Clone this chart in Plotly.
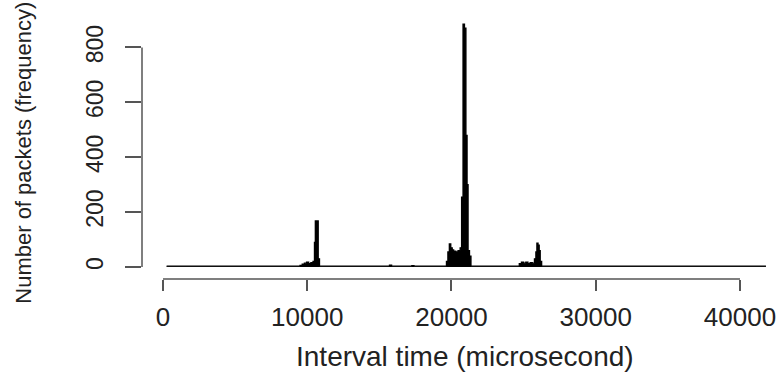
import plotly.graph_objects as go

# Histogram bins: left edge of each bin (microseconds) and packet counts
interval_us = [250, 9500, 9650, 9800, 9950, 10100, 10250, 10400, 10500, 10560, 10760, 10850,
               15700, 15850, 17250, 17400,
               19650, 19750, 19850, 19950, 20050, 20150, 20300, 20450, 20600, 20700,
               20800, 20900, 21000, 21080, 21150, 21250, 21350,
               24700, 24850, 25000, 25150, 25300, 25450, 25600, 25750, 25850, 25920,
               26000, 26080, 26150, 26250, 41800]
frequency = [3, 6, 10, 14, 18, 12, 16, 20, 90, 168, 30, 3,
             7, 3, 5, 3,
             20, 55, 84, 70, 62, 58, 55, 60, 70, 255,
             885, 870, 480, 300, 60, 40, 3,
             12, 18, 14, 18, 12, 16, 14, 30, 55, 87,
             80, 60, 20, 3, 3]

x_ticks = [0, 10000, 20000, 30000, 40000]
y_ticks = [0, 200, 400, 600, 800]

axis_col = "#555555"
text_col = "#222222"
font_name = "Liberation Sans, Arial, sans-serif"

fig = go.Figure()
fig.add_trace(go.Scatter(
    x=interval_us, y=frequency, mode="lines", line_shape="hv",
    line=dict(color="black", width=1.3), fill="tozeroy", fillcolor="black",
    hoverinfo="x+y", showlegend=False))

fig.update_layout(
    width=780, height=379,
    margin=dict(l=142, r=0, t=16, b=100),
    paper_bgcolor="white", plot_bgcolor="white",
    font=dict(family=font_name, color=text_col),
    xaxis=dict(range=[-1456, 42774], showgrid=False, zeroline=False, showline=False,
               tickmode="array", tickvals=x_ticks, ticktext=[str(v) for v in x_ticks],
               ticks="outside", ticklen=11, tickwidth=1.5, tickcolor=axis_col,
               tickfont=dict(size=26, color=text_col), ticklabelstandoff=4),
    yaxis=dict(range=[-43.7, 914.7], showgrid=False, zeroline=False, showline=False,
               tickmode="array", tickvals=y_ticks, ticktext=[str(v) for v in y_ticks],
               ticks="outside", ticklen=16, tickwidth=1.5, tickcolor=axis_col,
               tickangle=-90, tickfont=dict(size=23, color=text_col), ticklabelstandoff=13),
    shapes=[
        dict(type="line", xref="x", yref="paper", x0=x_ticks[0], x1=x_ticks[-1], y0=0, y1=0,
             line=dict(color=axis_col, width=1.5)),
        dict(type="line", xref="paper", yref="y", x0=0, x1=0, y0=y_ticks[0], y1=y_ticks[-1],
             line=dict(color=axis_col, width=1.5)),
    ],
    annotations=[
        dict(text="Interval time (microsecond)", xref="paper", yref="paper", x=0.506, y=-0.293,
             xanchor="center", yanchor="middle", showarrow=False,
             font=dict(size=28, color=text_col)),
        dict(text="Number of packets (frequency)", xref="paper", yref="paper", x=-0.185, y=0.48,
             xanchor="center", yanchor="middle", textangle=-90, showarrow=False,
             font=dict(size=22, color=text_col)),
    ],
)

fig.write_html("out.html")
